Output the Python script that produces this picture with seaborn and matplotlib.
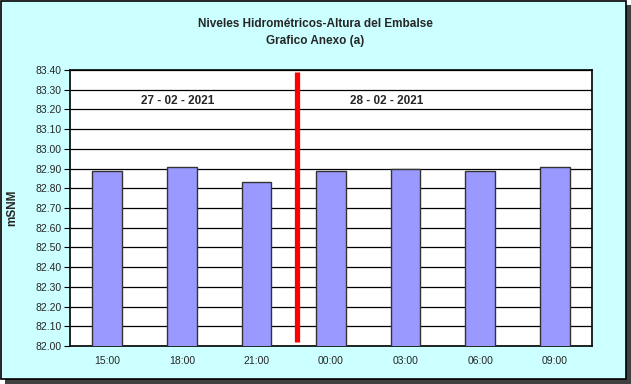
import matplotlib
matplotlib.use("Agg")
import matplotlib.pyplot as plt
import seaborn as sns
import numpy as np
from matplotlib.patches import Rectangle

times = ["15:00", "18:00", "21:00", "00:00", "03:00", "06:00", "09:00"]
levels = [82.89, 82.91, 82.83, 82.89, 82.90, 82.89, 82.91]
yticks = [82.00, 82.10, 82.20, 82.30, 82.40, 82.50, 82.60, 82.70, 82.80, 82.90,
          83.00, 83.10, 83.20, 83.30, 83.40]
date_labels = ["27 - 02 - 2021", "28 - 02 - 2021"]
date_x = [0.95, 3.75]
date_y = 83.245
divider_x = 2.54
divider_range = [82.02, 83.39]

sns.set_theme(style="white")
plt.rcParams['font.family'] = ['Liberation Sans', 'DejaVu Sans']

W, H = 631, 384
fig = plt.figure(figsize=(W / 100, H / 100), dpi=100)
fig.patch.set_facecolor("white")

# background frame with shadow
fig.patches.append(Rectangle((5 / W, 0), (W - 5) / W, (H - 5) / H, transform=fig.transFigure,
                             facecolor="#404040", edgecolor="none", zorder=0))
fig.patches.append(Rectangle((0.5 / W, 5.5 / H), (W - 6) / W, (H - 6.5) / H, transform=fig.transFigure,
                             facecolor="#CCFFFF", edgecolor="black", linewidth=1.2, zorder=1))

ax = fig.add_axes([70 / W, (H - 346) / H, (592 - 70) / W, (346 - 70) / H])
ax.set_facecolor("white")
ax.set_zorder(2)

sns.barplot(x=times, y=levels, order=times, color="#9999FF", edgecolor="#333333",
            linewidth=1.0, width=0.4, saturation=1, ax=ax, zorder=3)

ax.set_xlim(-0.5, len(times) - 0.5)
ax.set_ylim(yticks[0], yticks[-1])
ax.set_yticks(yticks)
ax.set_yticklabels([f"{v:.2f}" for v in yticks], fontsize=7.5)
ax.set_xticks(range(len(times)))
ax.set_xticklabels(times, fontsize=7.5)
ax.set_xticks(np.arange(-0.5, len(times), 1), minor=True)
ax.tick_params(axis="x", which="major", length=0, pad=7)
ax.tick_params(axis="x", which="minor", length=4, width=0.8, color="black", direction="out")
ax.tick_params(axis="y", which="major", length=4, width=0.8, color="black", direction="out",
               left=True, pad=2)
ax.grid(axis="y", color="black", linewidth=0.9, zorder=1)
ax.set_axisbelow(True)
for s in ax.spines.values():
    s.set_color("black")
    s.set_linewidth(1.2)
    s.set_visible(True)

ax.plot([divider_x, divider_x], divider_range, color="#FF0000", linewidth=3.8,
        solid_capstyle="butt", zorder=5)

for lbl, xx in zip(date_labels, date_x):
    ax.text(xx, date_y, lbl, ha="center", va="center", fontsize=8.5, fontweight="bold", zorder=6)

ax.set_xlabel("")
ax.set_ylabel("mSNM", fontsize=8.5, fontweight="bold", labelpad=12)

fig.text(0.5, (H - 24) / H, "Niveles Hidrométricos-Altura del Embalse", ha="center", va="center",
         fontsize=8.5, fontweight="bold")
fig.text(0.5, (H - 41) / H, "Grafico Anexo (a)", ha="center", va="center",
         fontsize=8.5, fontweight="bold")

fig.savefig("out.png", dpi=100)
